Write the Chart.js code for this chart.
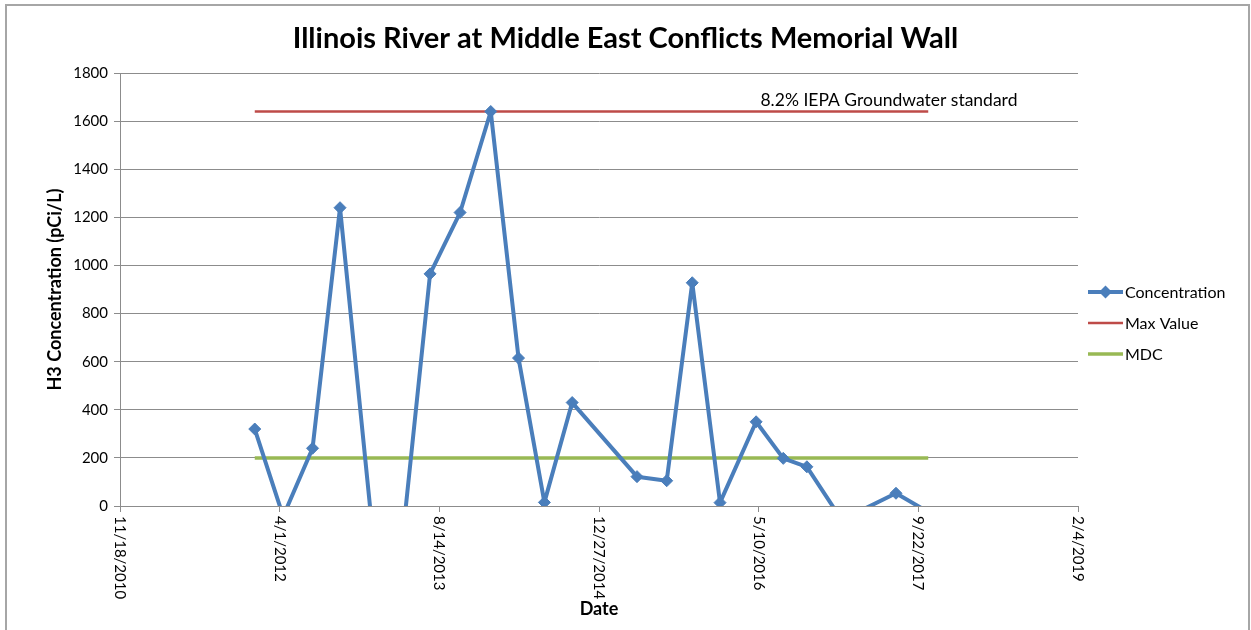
<!DOCTYPE html>
<html><head><meta charset="utf-8">
<script src="https://cdn.jsdelivr.net/npm/chart.js@4.4.0/dist/chart.umd.min.js"></script>
<style>html,body{margin:0;padding:0;background:#fff;}#wrap{width:1251px;height:630px;}</style>
</head><body><div id="wrap"><canvas id="c" width="1251" height="630"></canvas></div>
<script>
// ---- data ----
const sampleDates = ['2012-01-14','2012-04-12','2012-07-13','2012-10-07','2013-03-05','2013-07-16','2013-10-18','2014-01-22','2014-04-19','2014-07-09','2014-10-04','2015-04-25','2015-07-27','2015-10-15','2016-01-10','2016-05-02','2016-07-26','2016-10-08','2017-01-25','2017-07-14','2017-10-23'];
const concentration = [320,-43,240,1240,-730,965,1220,1640,615,15,430,122,105,928,14,350,198,163,-58,53,-25];
const refDates = ['2012-01-14','2017-10-23'];
const maxValue = [1640,1640];
const mdcValue = [200,200];
const axisStartDate = '2010-11-18';
const axisEndDate = '2019-02-04';
const xTickStepDays = 500;
const yTickValues = [0,200,400,600,800,1000,1200,1400,1600,1800];
const seriesNames = ['Concentration','Max Value','MDC'];
const standardLabel = '8.2% IEPA Groundwater standard';
const standardLabelAnchor = {date:'2017-06-22', value:1687};
const chartTitle = 'Illinois River at Middle East Conflicts Memorial Wall';
const yTitle = 'H3 Concentration (pCi/L)';
const xTitle = 'Date';

// ---- helpers ----
const DAY = 86400000;
function utc(s){const p=s.split('-').map(Number);return Date.UTC(p[0],p[1]-1,p[2]);}
const origin = utc(axisStartDate);
const toDays = s => (utc(s)-origin)/DAY;
function fmt(days){const d=new Date(origin+Math.round(days)*DAY);return (d.getUTCMonth()+1)+'/'+d.getUTCDate()+'/'+d.getUTCFullYear();}

const FONT = 'Lato, "Liberation Sans", sans-serif';
const BLUE='#4A7EBB', RED='#BE4B48', GREEN='#98B954', GRID='#8C8C8C';

const concData = sampleDates.map((d,i)=>({x:toDays(d),y:concentration[i]}));
const maxData = refDates.map((d,i)=>({x:toDays(d),y:maxValue[i]}));
const mdcData = refDates.map((d,i)=>({x:toDays(d),y:mdcValue[i]}));

const decor = {
  id:'decor',
  beforeDraw(chart){
    const c=chart.ctx;
    c.save();c.fillStyle='#fff';c.fillRect(0,0,chart.width,chart.height);
    c.strokeStyle='#A6A6A6';c.lineWidth=2;c.strokeRect(6,5,1243,630);
    c.restore();
  },
  afterDraw(chart){
    const c=chart.ctx, xs=chart.scales.x, ys=chart.scales.y;
    c.save();
    // title
    c.fillStyle='#000';c.font='bold 29px '+FONT;c.textAlign='center';c.textBaseline='middle';
    c.fillText(chartTitle, chart.width/2, 39);
    // rotated x tick labels (reading top to bottom)
    c.font='15px '+FONT;c.textAlign='left';c.textBaseline='middle';
    xs.ticks.forEach(t=>{
      const px=xs.getPixelForValue(t.value);
      c.save();c.translate(px, ys.bottom+10);c.rotate(Math.PI/2);
      c.fillText(fmt(t.value),0,0);c.restore();
    });
    // annotation text
    c.font='17.5px '+FONT;c.textAlign='center';c.textBaseline='middle';
    c.fillText(standardLabel, xs.getPixelForValue(toDays(standardLabelAnchor.date)), ys.getPixelForValue(standardLabelAnchor.value));
    // legend
    const lx=1088, lw=35, ly0=292, gap=31;
    const styles=[{col:BLUE,w:4,marker:true},{col:RED,w:2.5},{col:GREEN,w:3.5}];
    c.font='16px '+FONT;c.textAlign='left';c.textBaseline='middle';
    styles.forEach((s,i)=>{
      const y=ly0+i*gap;
      c.strokeStyle=s.col;c.lineWidth=s.w;c.beginPath();c.moveTo(lx,y);c.lineTo(lx+lw,y);c.stroke();
      if(s.marker){c.fillStyle=s.col;c.beginPath();c.moveTo(lx+lw/2,y-6.5);c.lineTo(lx+lw/2+6.5,y);c.lineTo(lx+lw/2,y+6.5);c.lineTo(lx+lw/2-6.5,y);c.closePath();c.fill();}
      c.fillStyle='#000';c.fillText(seriesNames[i], lx+lw+2, y+1);
    });
    c.restore();
  }
};

new Chart(document.getElementById('c'),{
  type:'line',
  data:{datasets:[
    {label:seriesNames[0],data:concData,borderColor:BLUE,backgroundColor:BLUE,borderWidth:4,borderJoinStyle:'round',pointStyle:'rectRot',pointRadius:6,pointBorderWidth:1,pointBackgroundColor:BLUE,pointBorderColor:BLUE,tension:0,clip:0},
    {label:seriesNames[1],data:maxData,borderColor:RED,borderWidth:2.5,pointRadius:0,clip:0},
    {label:seriesNames[2],data:mdcData,borderColor:GREEN,borderWidth:3.5,pointRadius:0,clip:0}
  ]},
  options:{
    responsive:false,animation:false,
    layout:{padding:{left:8,right:173,top:73,bottom:0}},
    plugins:{legend:{display:false},tooltip:{enabled:false},title:{display:false}},
    scales:{
      x:{type:'linear',min:0,max:toDays(axisEndDate),
        ticks:{stepSize:xTickStepDays,color:'rgba(0,0,0,0)',minRotation:90,maxRotation:90,callback:v=>fmt(v),font:{family:FONT,size:15}},
        grid:{drawOnChartArea:false,drawTicks:true,tickLength:6,color:GRID},
        border:{display:true,color:GRID,width:1},
        title:{display:true,text:xTitle,color:'#000',font:{family:FONT,size:18,weight:'bold'},padding:{top:0,bottom:10}},
        afterFit:s=>{s.height=124;}
      },
      y:{type:'linear',min:yTickValues[0],max:yTickValues[yTickValues.length-1],
        afterBuildTicks:s=>{s.ticks=yTickValues.map(v=>({value:v}));},
        ticks:{color:'#000',padding:6,font:{family:FONT,size:15},callback:v=>String(v)},
        grid:{color:GRID,lineWidth:1,tickLength:6},
        border:{display:true,color:GRID,width:1},
        title:{display:true,text:yTitle,color:'#000',font:{family:FONT,size:18,weight:'bold'},padding:{top:36,bottom:0}},
        afterFit:s=>{s.width=112;}
      }
    }
  },
  plugins:[decor]
});
</script></body></html>
